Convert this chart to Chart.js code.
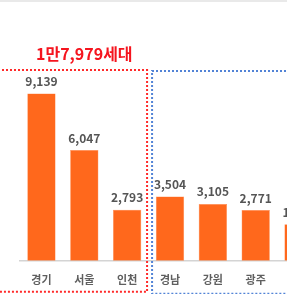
<!DOCTYPE html>
<html>
<head>
<meta charset="utf-8">
<script src="https://cdn.jsdelivr.net/npm/chart.js@4/dist/chart.umd.min.js"></script>
<style>
  html, body { margin: 0; padding: 0; background: #fff; overflow: hidden; width: 287px; height: 294px; }
  #wrap { position: relative; width: 287px; height: 294px; overflow: hidden; }
  #c { position: absolute; left: 0; top: 0; }
  #topline { position: absolute; left: 0; top: 0; width: 287px; height: 2px; background: #e9e9e9; }
</style>
</head>
<body>
<div id="wrap">
  <canvas id="c" width="320" height="307"></canvas>
  <div id="topline"></div>
</div>
<script>
// ---- data ----
const categories = ['경기', '서울', '인천', '경남', '강원', '광주', '기타'];
const households = [9139, 6047, 2793, 3504, 3105, 2771, 1990];
const groupTitle = '1만7,979세대';
const redGroupEnd = 2; // index of last category in the red (capital area) group

const FONT = '"Noto Sans CJK KR", "Noto Sans", sans-serif';

const decorPlugin = {
  id: 'decor',
  afterDatasetsDraw(chart) {
    const ctx = chart.ctx;
    const x = chart.scales.x;
    const area = chart.chartArea;
    const meta = chart.getDatasetMeta(0);

    // value labels
    ctx.save();
    ctx.font = 'bold 12px ' + FONT;
    ctx.fillStyle = '#555555';
    ctx.textAlign = 'center';
    ctx.textBaseline = 'middle';
    meta.data.forEach((bar, i) => {
      const v = households[i];
      ctx.fillText(v.toLocaleString('en-US'), bar.x, bar.y - 12);
    });
    ctx.restore();

    // group boxes
    const boundary = (x.getPixelForValue(redGroupEnd) + x.getPixelForValue(redGroupEnd + 1)) / 2;
    const boxTop = area.top + 29;
    ctx.save();
    ctx.lineWidth = 2;
    ctx.setLineDash([2, 2]);
    // red box
    ctx.strokeStyle = '#ff2a2a';
    ctx.beginPath();
    ctx.moveTo(-10, boxTop);
    ctx.lineTo(boundary - 1.5, boxTop);
    ctx.lineTo(boundary - 1.5, area.bottom + 31);
    ctx.lineTo(-10, area.bottom + 31);
    ctx.stroke();
    // blue box
    ctx.strokeStyle = '#5283d6';
    ctx.beginPath();
    ctx.moveTo(chart.width + 10, boxTop + 1);
    ctx.lineTo(boundary + 3.5, boxTop + 1);
    ctx.lineTo(boundary + 3.5, area.bottom + 33);
    ctx.lineTo(chart.width + 10, area.bottom + 33);
    ctx.stroke();
    ctx.restore();

    // group title
    const cx = (x.getPixelForValue(0) + x.getPixelForValue(redGroupEnd)) / 2;
    ctx.save();
    ctx.font = 'bold 16px ' + FONT;
    ctx.fillStyle = '#f5141e';
    ctx.textAlign = 'center';
    ctx.textBaseline = 'middle';
    ctx.fillText(groupTitle, cx, boxTop - 16);
    ctx.restore();
  }
};

new Chart(document.getElementById('c'), {
  type: 'bar',
  data: {
    labels: categories,
    datasets: [{
      data: households,
      backgroundColor: '#ff681c',
      borderColor: '#ff8a4f',
      borderWidth: 0.5,
      barPercentage: 0.66,
      categoryPercentage: 1
    }]
  },
  options: {
    responsive: false,
    animation: false,
    devicePixelRatio: 1,
    layout: { padding: { left: 20, right: 0, top: 41, bottom: 9 } },
    plugins: { legend: { display: false }, tooltip: { enabled: false } },
    scales: {
      x: {
        grid: { display: false, drawTicks: false },
        border: { display: true, color: '#d4d4d4', width: 1.5 },
        ticks: {
          padding: 12,
          color: '#5f5f5f',
          font: { family: FONT, size: 11, weight: 'bold' },
          callback: function(v, i) { return i < 6 ? categories[i] : ''; }
        }
      },
      y: {
        display: false,
        min: 0,
        max: 12000
      }
    }
  },
  plugins: [decorPlugin]
});
</script>
</body>
</html>
